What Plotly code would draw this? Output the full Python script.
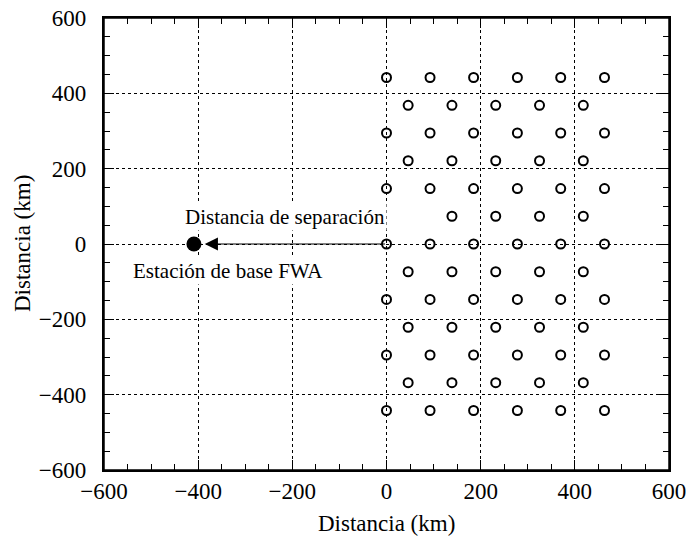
import plotly.graph_objects as go

# Hexagonal lattice of stations (km)
even_cols = [0, 92.5, 185, 278, 370, 463]
odd_cols = [46, 139, 232, 325, 418]
even_rows = [442, 294.7, 147.3, 0, -147.3, -294.7, -442]
odd_rows = [368.3, 221, 73.7, -73.7, -221, -368.3]
hidden = [(46, 73.7)]  # covered by the label in the reference

station_x, station_y = [], []
for r in even_rows:
    for c in even_cols:
        station_x.append(c); station_y.append(r)
for r in odd_rows:
    for c in odd_cols:
        if (c, r) in hidden:
            continue
        station_x.append(c); station_y.append(r)

base_x = [-409]
base_y = [0]
arrow_start = (0, 0)
arrow_end = (-386, 0)

label_sep = "Distancia de separación"
label_base = "Estación de base FWA"
axis_title = "Distancia (km)"

FONT = "Liberation Serif, Times New Roman, serif"
W, H = 688, 545
ML, MR, MT, MB = 104, 19, 18, 75

fig = go.Figure()
fig.add_trace(go.Scatter(x=station_x, y=station_y, mode="markers",
                         marker=dict(symbol="circle-open", size=9, color="black",
                                     line=dict(width=2, color="black")),
                         showlegend=False, hoverinfo="skip"))
fig.add_trace(go.Scatter(x=base_x, y=base_y, mode="markers",
                         marker=dict(symbol="circle", size=15, color="black"),
                         showlegend=False, hoverinfo="skip"))

fig.add_annotation(x=arrow_end[0], y=arrow_end[1], ax=arrow_start[0], ay=arrow_start[1],
                   xref="x", yref="y", axref="x", ayref="y", showarrow=True,
                   arrowhead=2, arrowsize=2.2, arrowwidth=1.2, arrowcolor="black", text="")
fig.add_annotation(x=-216, y=72, xref="x", yref="y", text=label_sep, showarrow=False,
                   font=dict(family=FONT, size=21, color="black"), bgcolor="white")
fig.add_annotation(x=-336, y=-72, xref="x", yref="y", text=label_base, showarrow=False,
                   font=dict(family=FONT, size=21, color="black"), bgcolor="white")

# axis titles placed in pixel terms relative to the plot area
ph = H - MT - MB
pw = W - ML - MR
fig.add_annotation(x=0.5, y=-(523 - (H - MB)) / ph, xref="paper", yref="paper",
                   text=axis_title, showarrow=False, yanchor="middle",
                   font=dict(family=FONT, size=23, color="black"))
fig.add_annotation(x=-(ML - 22) / pw, y=0.5, xref="paper", yref="paper",
                   text=axis_title, showarrow=False, textangle=-90, xanchor="center",
                   font=dict(family=FONT, size=23, color="black"))

# frame around the plot area
fig.add_shape(type="rect", xref="paper", yref="paper", x0=0, x1=1, y0=0, y1=1,
              line=dict(color="black", width=1.5), layer="above")

axis_common = dict(range=[-600, 600], dtick=200, tick0=-600, showgrid=True,
                   gridcolor="black", griddash="dot", gridwidth=0.8,
                   zeroline=False, showline=True, linecolor="black", linewidth=1.5,
                   mirror="allticks", ticks="inside", ticklen=10, tickwidth=1.2,
                   tickcolor="black", automargin=False,
                   tickfont=dict(family=FONT, size=23, color="black"),
                   minor=dict(dtick=50, ticks="inside", ticklen=6, tickwidth=1,
                              tickcolor="black", showgrid=False))

fig.update_xaxes(**axis_common)
fig.update_yaxes(**axis_common, ticksuffix="\u2002")

fig.update_layout(width=W, height=H, margin=dict(l=ML, r=MR, t=MT, b=MB),
                  plot_bgcolor="white", paper_bgcolor="white",
                  font=dict(family=FONT, color="black"))

fig.write_html("out.html", config={"displayModeBar": False},
               post_script="document.body.style.margin='0';"
                           "document.body.style.overflow='hidden';")
